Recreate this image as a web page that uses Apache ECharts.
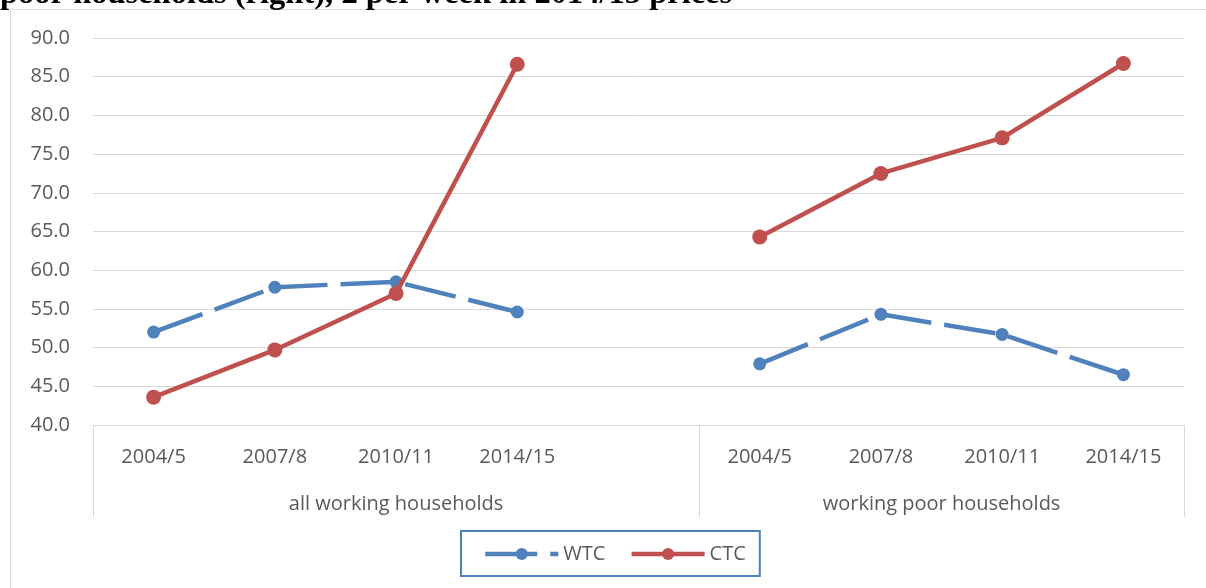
<!DOCTYPE html>
<html>
<head>
<meta charset="utf-8">
<style>
html,body{margin:0;padding:0;background:#fff;}
#chart{width:1206px;height:588px;}
</style>
<script src="https://cdn.jsdelivr.net/npm/echarts@6/dist/echarts.min.js"></script>
</head>
<body>
<div id="chart"></div>
<script>
// ---- data ----
const titleText = 'poor households (right), £ per week in 2014/15 prices';
const categories = ['2004/5', '2007/8', '2010/11', '2014/15', '', '2004/5', '2007/8', '2010/11', '2014/15'];
const groupLabels = ['all working households', 'working poor households'];
const groupCenters = [2.5, 7];        // in category units
const groupBounds = [0, 5, 9];        // group separators in category units
const wtcValues = [52.0, 57.8, 58.5, 54.6, null, 47.9, 54.3, 51.7, 46.5];
const ctcValues = [43.6, 49.7, 57.0, 86.6, null, 64.3, 72.5, 77.1, 86.7];
const yTicks = { min: 40, max: 90, interval: 5 };

const FONT = '"Open Sans", "Liberation Sans", sans-serif';
const TXT = '#595959';
const GRID = '#D9D9D9';

const chart = echarts.init(document.getElementById('chart'), null, { renderer: 'canvas' });
chart.setOption({
  animation: false,
  backgroundColor: '#fff',
  title: {
    text: titleText,
    left: 0,
    top: -22,
    padding: 0,
    textStyle: { fontFamily: '"Liberation Serif", "Times New Roman", serif', fontWeight: 'bold', fontSize: 32.5, color: '#000' }
  },
  graphic: [{
    type: 'rect', z: -10, silent: true,
    shape: { x: 10.5, y: 9.5, width: 1400, height: 800 },
    style: { fill: 'none', stroke: GRID, lineWidth: 1 }
  }],
  grid: { left: 93, right: 22, top: 38, bottom: 163, containLabel: false },
  legend: {
    data: ['WTC', 'CTC'],
    left: 461, top: 531,
    borderColor: '#4F81BD', borderWidth: 2,
    padding: [13, 14, 12, 22],
    itemWidth: 73, itemHeight: 15, itemGap: 24,
    lineStyle: { width: 4.5 },
    textStyle: { fontFamily: FONT, fontSize: 20, color: TXT, padding: [0, 0, 0, 0] }
  },
  xAxis: [{
    type: 'category',
    data: categories,
    boundaryGap: true,
    axisLine: { show: true, lineStyle: { color: GRID } },
    axisTick: { show: false },
    axisLabel: { interval: 0, margin: 22, fontFamily: FONT, fontSize: 20, color: TXT }
  }, {
    type: 'value',
    min: 0, max: 9,
    position: 'bottom',
    axisLine: { show: false },
    splitLine: { show: false },
    axisTick: { show: true, customValues: groupBounds, length: 92, lineStyle: { color: GRID } },
    axisLabel: {
      customValues: groupCenters, margin: 69, fontFamily: FONT, fontSize: 20, color: TXT,
      formatter: v => { const i = groupCenters.indexOf(v); return i >= 0 ? groupLabels[i] : ''; }
    }
  }],
  yAxis: {
    type: 'value',
    min: yTicks.min, max: yTicks.max, interval: yTicks.interval,
    axisLine: { show: false },
    axisTick: { show: false },
    splitLine: { lineStyle: { color: GRID, width: 1 } },
    axisLabel: { margin: 23, fontFamily: FONT, fontSize: 20, color: TXT, formatter: v => v.toFixed(1) }
  },
  series: [{
    name: 'WTC', type: 'line', data: wtcValues, xAxisIndex: 0,
    symbol: 'circle', symbolSize: 13,
    itemStyle: { color: '#4F81BD' },
    lineStyle: { color: '#4F81BD', width: 4.5, type: [52, 13] },
    connectNulls: false, z: 2
  }, {
    name: 'CTC', type: 'line', data: ctcValues, xAxisIndex: 0,
    symbol: 'circle', symbolSize: 15,
    itemStyle: { color: '#C0504D' },
    lineStyle: { color: '#C0504D', width: 4.5 },
    connectNulls: false, z: 3
  }]
});
</script>
</body>
</html>
